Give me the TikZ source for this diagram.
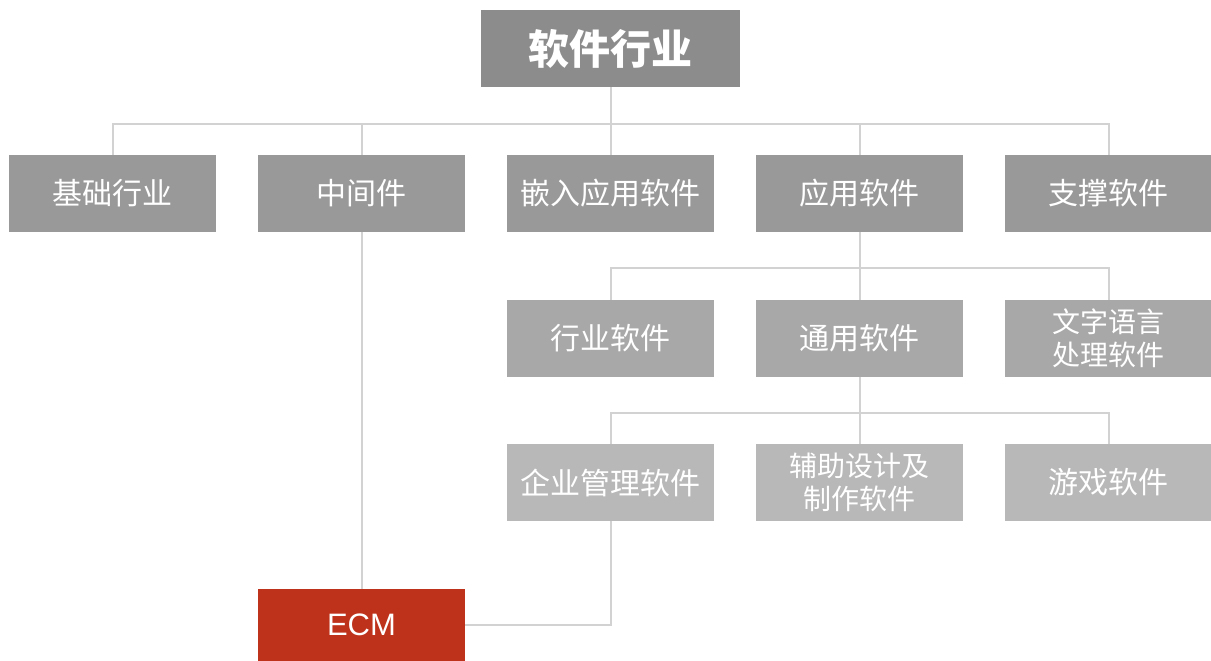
\documentclass[tikz,border=0pt]{standalone}
\usepackage{fontspec}
\setmainfont{Noto Sans CJK SC}
\newfontfamily\ecmfont{Liberation Sans}
\definecolor{cTop}{HTML}{8C8C8C}
\definecolor{cL1}{HTML}{999999}
\definecolor{cL2}{HTML}{A8A8A8}
\definecolor{cL3}{HTML}{B8B8B8}
\definecolor{cLine}{HTML}{D2D2D2}
\definecolor{cEcm}{HTML}{BE311B}
\begin{document}
\begin{tikzpicture}[x=1pt,y=-1pt,
  box/.style={rectangle,inner sep=0pt,minimum width=207pt,minimum height=77pt,text=white,font=\fontsize{30}{33}\selectfont,align=center},
  lone/.style={box,fill=cL1},
  ltwo/.style={box,fill=cL2},
  lthree/.style={box,fill=cL3},
  two/.style={font=\fontsize{28}{33}\selectfont},
  conn/.style={draw=cLine,line width=2pt}]
\useasboundingbox (0,0) rectangle (1211,661);
\node[box,fill=cTop,minimum width=259pt,font=\fontsize{41}{44}\selectfont\bfseries] (top) at (610.5,48.5) {软件行业};
\node[lone] (a1) at (112.5,193.5) {基础行业};
\node[lone] (a2) at (361.5,193.5) {中间件};
\node[lone] (a3) at (610.5,193.5) {嵌入应用软件};
\node[lone] (a4) at (859.5,193.5) {应用软件};
\node[lone] (a5) at (1108.5,193.5) {支撑软件};
\node[ltwo] (b1) at (610.5,338.5) {行业软件};
\node[ltwo] (b2) at (859.5,338.5) {通用软件};
\node[ltwo,two] (b3) at (1108.5,338.5) {文字语言\\处理软件};
\node[lthree] (c1) at (610.5,482.5) {企业管理软件};
\node[lthree,two] (c2) at (859.5,482.5) {辅助设计及\\制作软件};
\node[lthree] (c3) at (1108.5,482.5) {游戏软件};
\node[box,fill=cEcm,minimum height=72pt,font=\ecmfont\fontsize{31}{33}\selectfont] (ecm) at (361.5,625) {ECM};
\coordinate (h1) at (610.5,124);
\coordinate (h2) at (859.5,268);
\coordinate (h3) at (859.5,413);
\draw[conn] (top.south) -- (h1);
\foreach \n in {a1,a2,a3,a4,a5} \draw[conn] (\n.north) |- (h1);
\draw[conn] (a4.south) -- (h2);
\foreach \n in {b1,b2,b3} \draw[conn] (\n.north) |- (h2);
\draw[conn] (b2.south) -- (h3);
\foreach \n in {c1,c2,c3} \draw[conn] (\n.north) |- (h3);
\draw[conn] (a2.south) -- (ecm.north);
\draw[conn] (c1.south) |- (ecm.east);
\end{tikzpicture}
\end{document}
